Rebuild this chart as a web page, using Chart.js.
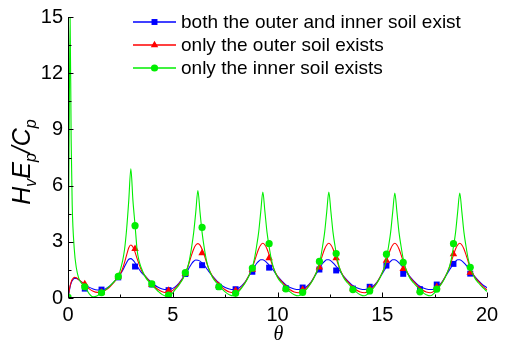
<!DOCTYPE html>
<html><head><meta charset="utf-8">
<script src="https://cdn.jsdelivr.net/npm/chart.js@4/dist/chart.umd.min.js"></script>
<style>html,body{margin:0;padding:0;background:#fff;}canvas{display:block;}</style>
</head><body>
<canvas id="c" width="509" height="346"></canvas>
<script>
// ---- data ----
const seriesNames = ['both the outer and inner soil exist', 'only the outer soil exists', 'only the inner soil exists'];
const seriesColors = ['#0000ff', '#ff0000', '#00ee00'];
const xTicks = [0, 5, 10, 15, 20];
const yTicks = [0, 3, 6, 9, 12, 15];

const lineTheta = [
 0,0.05,0.1,0.15,0.2,0.3,0.4,0.5,0.6,0.8,1.0,1.2,1.4,1.6,1.8,2.0,2.2,2.4,
 2.5,2.6,2.7,2.8,2.9,3.0,3.1,3.2,3.3,3.4,3.5,
 3.7,3.9,4.1,4.3,4.5,4.7,4.9,5.1,5.3,5.5,
 5.7,5.8,5.9,6.0,6.1,6.2,6.3,6.4,6.5,6.6,6.7,
 6.9,7.1,7.3,7.5,7.7,7.9,8.1,8.3,8.45,8.6,
 8.8,8.9,9.0,9.1,9.2,9.3,9.4,9.5,9.6,9.7,9.8,
 10.0,10.2,10.4,10.6,10.8,11.0,11.2,11.4,11.6,11.75,
 11.95,12.05,12.15,12.25,12.35,12.45,12.55,12.65,12.75,12.85,12.95,
 13.15,13.35,13.55,13.75,13.95,14.15,14.35,14.55,14.75,14.9,
 15.1,15.2,15.3,15.4,15.5,15.6,15.7,15.8,15.9,16.0,16.1,
 16.3,16.5,16.7,16.9,17.1,17.3,17.5,17.7,17.85,18.0,
 18.2,18.3,18.4,18.5,18.6,18.7,18.8,18.9,19.0,19.1,19.2,
 19.4,19.6,19.8,20.0];

const lineBoth = [
 0,0.3,0.6,0.8,0.92,1.05,1.05,0.98,0.9,0.72,0.58,0.48,0.43,0.43,0.5,0.65,0.87,1.12,
 1.27,1.45,1.68,1.9,2.07,2.1,2.02,1.88,1.7,1.52,1.37,
 1.15,0.92,0.72,0.57,0.48,0.45,0.47,0.58,0.8,1.1,
 1.45,1.65,1.83,1.96,2.03,2.02,1.97,1.87,1.75,1.6,1.45,
 1.17,0.92,0.7,0.56,0.48,0.45,0.5,0.66,0.85,1.12,
 1.48,1.66,1.84,1.96,2.04,2.04,1.98,1.88,1.76,1.62,1.48,
 1.17,0.92,0.7,0.56,0.48,0.45,0.49,0.62,0.85,1.12,
 1.48,1.66,1.84,1.96,2.04,2.04,1.98,1.88,1.76,1.62,1.48,
 1.17,0.92,0.7,0.56,0.48,0.45,0.49,0.62,0.85,1.12,
 1.48,1.66,1.84,1.96,2.04,2.04,1.98,1.88,1.76,1.62,1.48,
 1.17,0.92,0.7,0.56,0.48,0.45,0.5,0.66,0.85,1.12,
 1.48,1.66,1.84,1.96,2.04,2.04,1.98,1.88,1.76,1.62,1.48,
 1.17,0.92,0.7,0.55];

const lineOuter = [
 0,0.35,0.65,0.85,0.98,1.1,1.08,1.0,0.9,0.72,0.5,0.36,0.3,0.32,0.43,0.6,0.85,1.12,
 1.3,1.55,1.9,2.3,2.68,2.83,2.72,2.45,2.1,1.78,1.5,
 1.15,0.88,0.64,0.45,0.33,0.28,0.33,0.5,0.75,1.1,
 1.6,1.95,2.3,2.62,2.83,2.9,2.82,2.6,2.3,1.95,1.62,
 1.15,0.88,0.62,0.44,0.32,0.28,0.38,0.6,0.82,1.12,
 1.62,1.95,2.3,2.62,2.83,2.92,2.83,2.62,2.3,1.95,1.62,
 1.15,0.88,0.62,0.44,0.32,0.28,0.36,0.55,0.82,1.12,
 1.62,1.95,2.3,2.62,2.83,2.92,2.83,2.62,2.3,1.95,1.62,
 1.15,0.88,0.62,0.44,0.32,0.28,0.36,0.55,0.82,1.12,
 1.62,1.95,2.3,2.62,2.83,2.92,2.83,2.62,2.3,1.95,1.62,
 1.15,0.88,0.62,0.44,0.32,0.28,0.38,0.6,0.82,1.12,
 1.62,1.95,2.3,2.62,2.83,2.92,2.83,2.62,2.3,1.95,1.62,
 1.15,0.88,0.62,0.44];

const lineInner = [
 0.1,8,15,8.5,5,2.6,1.6,1.1,0.85,0.6,0.25,0.06,0.12,0.28,0.45,0.65,0.88,1.15,
 1.5,1.95,2.6,3.7,5.2,6.9,5.2,3.9,2.55,1.95,1.6,
 1.1,0.82,0.58,0.36,0.18,0.1,0.15,0.42,0.7,1.05,
 1.6,2.05,2.7,3.5,4.6,5.74,4.6,3.5,2.7,2.05,1.62,
 1.1,0.8,0.55,0.33,0.18,0.12,0.28,0.55,0.8,1.1,
 1.65,2.1,2.75,3.5,4.6,5.65,4.6,3.5,2.75,2.1,1.65,
 1.1,0.8,0.55,0.33,0.18,0.12,0.25,0.48,0.8,1.1,
 1.65,2.1,2.75,3.5,4.6,5.65,4.6,3.5,2.75,2.1,1.65,
 1.1,0.8,0.55,0.33,0.18,0.12,0.25,0.48,0.8,1.1,
 1.65,2.1,2.75,3.5,4.6,5.6,4.6,3.5,2.75,2.1,1.65,
 1.1,0.8,0.55,0.33,0.18,0.12,0.28,0.55,0.8,1.1,
 1.65,2.1,2.75,3.5,4.6,5.6,4.6,3.5,2.75,2.1,1.65,
 1.1,0.8,0.55,0.35];

const markTheta = [0,0.8,1.6,2.4,3.2,4.0,4.8,5.6,6.4,7.2,8.0,8.8,9.6,10.4,11.2,12.0,12.8,13.6,14.4,15.2,16.0,16.8,17.6,18.4,19.2];
const markBoth  = [0,0.5,0.45,1.1,1.68,0.72,0.42,1.28,1.75,0.6,0.47,1.4,1.62,0.52,0.56,1.52,1.47,0.5,0.6,1.73,1.29,0.47,0.72,1.82,1.3];
const markOuter = [0,0.75,0.3,1.15,2.63,0.7,0.4,1.3,2.4,0.65,0.4,1.52,2.13,0.5,0.45,1.64,2.13,0.47,0.5,2.0,1.55,0.4,0.6,2.34,1.35];
const markInner = [0.05,0.6,0.28,1.15,3.86,0.75,0.16,1.35,3.77,0.6,0.25,1.6,2.9,0.48,0.3,1.95,2.37,0.45,0.38,2.34,1.9,0.33,0.47,2.9,1.64];

// ---- helpers ----
function pts(xs, ys) { return xs.map((x, i) => ({ x: x, y: ys[i] })); }
const markerStyles = ['rect', 'triangle', 'circle'];
const markerRadius = [4.2, 4.3, 3.6];
const lineSets = [lineBoth, lineOuter, lineInner];
const markSets = [markBoth, markOuter, markInner];
const FONT = '"Liberation Sans", Arial, sans-serif';

const datasets = [];
for (let i = 0; i < 3; i++) {
  datasets.push({
    label: seriesNames[i], data: pts(lineTheta, lineSets[i]),
    showLine: true,
    borderColor: seriesColors[i], borderWidth: 1.1, pointRadius: 0,
    cubicInterpolationMode: 'monotone', fill: false, order: 10 - 2 * i
  });
  datasets.push({
    label: seriesNames[i] + ' (symbols)', data: pts(markTheta, markSets[i]),
    showLine: false, pointStyle: markerStyles[i], pointRadius: markerRadius[i],
    pointBackgroundColor: seriesColors[i], pointBorderColor: seriesColors[i],
    pointBorderWidth: 0, order: 9 - 2 * i
  });
}

function drawMarker(ctx, style, x, y, r, color) {
  ctx.save();
  ctx.fillStyle = color;
  ctx.beginPath();
  if (style === 'rect') {
    const s = Math.SQRT1_2 * r;
    ctx.rect(x - s, y - s, 2 * s, 2 * s);
  } else if (style === 'triangle') {
    ctx.moveTo(x, y - r);
    ctx.lineTo(x + r * 0.866, y + r * 0.5);
    ctx.lineTo(x - r * 0.866, y + r * 0.5);
    ctx.closePath();
  } else {
    ctx.arc(x, y, r, 0, Math.PI * 2);
  }
  ctx.fill();
  ctx.restore();
}

const decorPlugin = {
  id: 'decor',
  afterDatasetsDraw(chart) {
    const ctx = chart.ctx;
    const xs = chart.scales.x, ys = chart.scales.y;
    const L = Math.round(xs.left) + 0.5, B = Math.round(ys.bottom) - 0.5;
    const R = xs.right, T = ys.top;
    ctx.save();
    ctx.strokeStyle = '#000';
    ctx.lineWidth = 1;
    ctx.beginPath();
    ctx.moveTo(L, T); ctx.lineTo(L, B); ctx.lineTo(R, B);
    for (let k = 0; k < xTicks.length; k++) {
      const px = Math.round(xs.getPixelForValue(xTicks[k])) + 0.5;
      ctx.moveTo(px, B); ctx.lineTo(px, B - 5);
      if (k < xTicks.length - 1) {
        const pm = Math.round(xs.getPixelForValue((xTicks[k] + xTicks[k + 1]) / 2)) + 0.5;
        ctx.moveTo(pm, B); ctx.lineTo(pm, B - 3);
      }
    }
    for (let k = 0; k < yTicks.length; k++) {
      const py = Math.round(ys.getPixelForValue(yTicks[k])) + 0.5;
      ctx.moveTo(L, py); ctx.lineTo(L + 5, py);
      if (k < yTicks.length - 1) {
        const pm = Math.round(ys.getPixelForValue((yTicks[k] + yTicks[k + 1]) / 2)) + 0.5;
        ctx.moveTo(L, pm); ctx.lineTo(L + 3, pm);
      }
    }
    ctx.stroke();
    ctx.restore();

    // legend
    const rows = [22, 45, 68];
    for (let i = 0; i < 3; i++) {
      const y = rows[i];
      ctx.save();
      ctx.strokeStyle = seriesColors[i];
      ctx.lineWidth = 1.3;
      ctx.beginPath(); ctx.moveTo(133, y); ctx.lineTo(176, y); ctx.stroke();
      ctx.restore();
      drawMarker(ctx, markerStyles[i], 154.5, y, markerRadius[i], seriesColors[i]);
      ctx.save();
      ctx.fillStyle = '#000';
      ctx.font = '19px ' + FONT;
      ctx.textBaseline = 'middle';
      ctx.textAlign = 'left';
      ctx.fillText(seriesNames[i], 181, y + 0.5);
      ctx.restore();
    }

    // x title
    ctx.save();
    ctx.fillStyle = '#000';
    ctx.font = 'italic 20px "Liberation Serif", "Times New Roman", serif';
    ctx.textAlign = 'center';
    ctx.textBaseline = 'middle';
    ctx.fillText('\u03B8', (xs.left + xs.right) / 2 + 1, 335);
    ctx.restore();

    // y title with subscripts
    const segs = [
      { t: 'H', sub: false }, { t: 'v', sub: true },
      { t: 'E', sub: false }, { t: 'p', sub: true },
      { t: '/C', sub: false }, { t: 'p', sub: true }
    ];
    const mainFont = 'italic 25px ' + FONT;
    const subFont = 'italic 16px ' + FONT;
    ctx.save();
    ctx.fillStyle = '#000';
    let total = 0;
    for (const s of segs) { ctx.font = s.sub ? subFont : mainFont; total += ctx.measureText(s.t).width; }
    ctx.translate(30, 162);
    ctx.rotate(-Math.PI / 2);
    ctx.textBaseline = 'alphabetic';
    ctx.textAlign = 'left';
    let cx = -total / 2;
    for (const s of segs) {
      ctx.font = s.sub ? subFont : mainFont;
      ctx.fillText(s.t, cx, s.sub ? 6 : 0);
      cx += ctx.measureText(s.t).width;
    }
    ctx.restore();
  }
};

new Chart(document.getElementById('c'), {
  type: 'scatter',
  data: { datasets: datasets },
  options: {
    responsive: false, animation: false, devicePixelRatio: 1,
    layout: { padding: { left: 0, right: 22, top: 11, bottom: 0 } },
    plugins: { legend: { display: false }, tooltip: { enabled: false } },
    scales: {
      x: {
        type: 'linear', min: 0, max: 20,
        afterFit(s) { s.height = 48; },
        grid: { display: false, drawTicks: false }, border: { display: false },
        ticks: { stepSize: 5, padding: 5, color: '#000', maxRotation: 0,
                 font: { family: FONT, size: 20 } }
      },
      y: {
        type: 'linear', min: 0, max: 15,
        afterFit(s) { s.width = 68; },
        grid: { display: false, drawTicks: false }, border: { display: false },
        ticks: { stepSize: 3, padding: 5, color: '#000',
                 font: { family: FONT, size: 20 } }
      }
    }
  },
  plugins: [decorPlugin]
});
</script>
</body></html>
